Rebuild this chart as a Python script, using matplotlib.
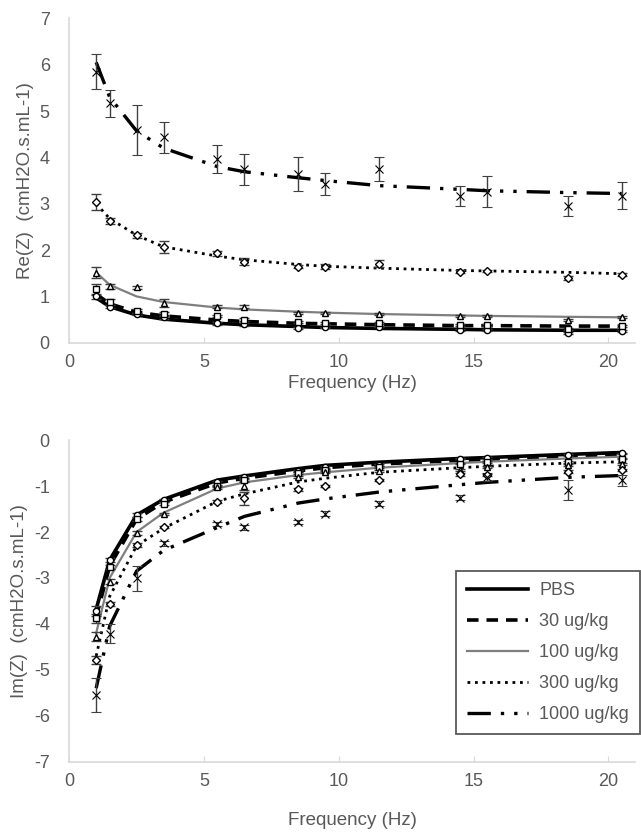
import matplotlib
matplotlib.use('Agg')
import matplotlib.pyplot as plt

plt.rcParams['font.family'] = ['Liberation Sans', 'DejaVu Sans']
plt.rcParams['axes.unicode_minus'] = False

freq = [1, 1.5, 2.5, 3.5, 5.5, 6.5, 8.5, 9.5, 11.5, 14.5, 15.5, 18.5, 20.5]
groups = ['PBS', '30 ug/kg', '100 ug/kg', '300 ug/kg', '1000 ug/kg']

# Re(Z): izmerene vrednosti, greske i fit
re_pbs = [1.00, 0.78, 0.62, 0.55, 0.42, 0.40, 0.31, 0.33, 0.35, 0.27, 0.27, 0.22, 0.26]
re_30 = [1.15, 0.88, 0.68, 0.63, 0.58, 0.50, 0.45, 0.43, 0.42, 0.38, 0.38, 0.30, 0.36]
re_100 = [1.51, 1.22, 1.20, 0.86, 0.78, 0.78, 0.65, 0.65, 0.63, 0.57, 0.57, 0.50, 0.55]
re_300 = [3.04, 2.63, 2.32, 2.06, 1.93, 1.75, 1.64, 1.64, 1.71, 1.53, 1.55, 1.39, 1.47]
re_1000 = [5.85, 5.17, 4.59, 4.43, 3.96, 3.74, 3.64, 3.43, 3.74, 3.17, 3.26, 2.95, 3.17]

re_err_pbs = [0.06, 0.04, 0.03, 0.03, 0.03, 0.03, 0.02, 0.02, 0.02, 0.02, 0.02, 0.02, 0.02]
re_err_30 = [0.12, 0.06, 0.04, 0.04, 0.03, 0.03, 0.02, 0.02, 0.02, 0.02, 0.02, 0.02, 0.02]
re_err_100 = [0.12, 0.05, 0.03, 0.08, 0.03, 0.03, 0.02, 0.02, 0.02, 0.02, 0.02, 0.02, 0.02]
re_err_300 = [0.17, 0.07, 0.05, 0.13, 0.05, 0.08, 0.03, 0.05, 0.08, 0.03, 0.03, 0.04, 0.03]
re_err_1000 = [0.38, 0.29, 0.53, 0.33, 0.30, 0.33, 0.37, 0.24, 0.26, 0.22, 0.33, 0.22, 0.29]

re_fit_pbs = [0.97, 0.78, 0.60, 0.51, 0.42, 0.39, 0.35, 0.33, 0.31, 0.29, 0.28, 0.27, 0.27]
re_fit_30 = [1.05, 0.84, 0.66, 0.58, 0.49, 0.46, 0.42, 0.41, 0.39, 0.37, 0.37, 0.36, 0.36]
re_fit_100 = [1.52, 1.25, 1.00, 0.88, 0.76, 0.72, 0.67, 0.65, 0.62, 0.59, 0.58, 0.56, 0.55]
re_fit_300 = [3.00, 2.68, 2.32, 2.07, 1.87, 1.79, 1.69, 1.65, 1.61, 1.56, 1.55, 1.52, 1.49]
re_fit_1000 = [6.05, 5.30, 4.57, 4.20, 3.80, 3.69, 3.56, 3.50, 3.39, 3.31, 3.28, 3.24, 3.22]

# Im(Z)
im_pbs = [-3.72, -2.61, -1.63, -1.31, -0.91, -0.81, -0.67, -0.58, -0.54, -0.40, -0.38, -0.33, -0.29]
im_30 = [-3.88, -2.76, -1.72, -1.38, -1.00, -0.86, -0.72, -0.64, -0.58, -0.51, -0.47, -0.47, -0.40]
im_100 = [-4.28, -3.08, -2.02, -1.61, -1.03, -1.00, -0.81, -0.70, -0.67, -0.65, -0.58, -0.55, -0.52]
im_300 = [-4.79, -3.57, -2.28, -1.89, -1.34, -1.27, -1.07, -1.00, -0.87, -0.74, -0.76, -0.69, -0.65]
im_1000 = [-5.55, -4.21, -3.01, -2.25, -1.83, -1.90, -1.78, -1.60, -1.38, -1.25, -0.80, -1.09, -0.87]

im_err_pbs = [0.10, 0.05, 0.04, 0.03, 0.03, 0.03, 0.02, 0.02, 0.02, 0.02, 0.02, 0.02, 0.02]
im_err_30 = [0.10, 0.05, 0.04, 0.03, 0.03, 0.03, 0.02, 0.02, 0.02, 0.02, 0.02, 0.02, 0.02]
im_err_100 = [0.10, 0.05, 0.04, 0.03, 0.03, 0.08, 0.02, 0.02, 0.02, 0.02, 0.02, 0.02, 0.02]
im_err_300 = [0.08, 0.05, 0.04, 0.03, 0.03, 0.15, 0.03, 0.03, 0.03, 0.03, 0.03, 0.03, 0.03]
im_err_1000 = [0.37, 0.20, 0.27, 0.05, 0.05, 0.05, 0.05, 0.06, 0.05, 0.05, 0.08, 0.22, 0.12]

im_fit_pbs = [-3.68, -2.61, -1.63, -1.29, -0.87, -0.78, -0.62, -0.55, -0.48, -0.40, -0.38, -0.31, -0.27]
im_fit_30 = [-3.85, -2.74, -1.72, -1.35, -0.93, -0.83, -0.67, -0.60, -0.52, -0.44, -0.42, -0.35, -0.31]
im_fit_100 = [-4.20, -3.00, -2.00, -1.58, -1.05, -0.92, -0.76, -0.70, -0.60, -0.50, -0.47, -0.40, -0.36]
im_fit_300 = [-4.70, -3.40, -2.30, -1.92, -1.33, -1.17, -0.91, -0.83, -0.70, -0.60, -0.57, -0.50, -0.47]
im_fit_1000 = [-5.40, -4.05, -2.85, -2.40, -1.90, -1.66, -1.37, -1.28, -1.13, -0.97, -0.92, -0.81, -0.77]

# stil linija i markera za svaku grupu
line_styles = [
    dict(color='black', lw=2.6, ls='-'),
    dict(color='black', lw=2.6, ls=(0, (3.2, 2.2))),
    dict(color='#7f7f7f', lw=1.6, ls='-'),
    dict(color='black', lw=2.0, ls=(0, (1, 1.7))),
    dict(color='black', lw=2.4, ls=(0, (7, 3, 1, 3, 1, 3))),
]
markers = [('o', 4.5, 1.0), ('s', 4.2, 1.0), ('^', 5.0, 1.0), ('D', 3.6, 1.0), ('x', 6.0, 0.8)]

gray_txt = '#595959'
gray_axis = '#d9d9d9'


def draw_panel(ax, data, errs, fits, ylim, ylabel, xlabelpad):
    for i in range(len(groups)):
        ax.plot(freq, fits[i], label=groups[i], zorder=2, **line_styles[i])
        m, ms, mew = markers[i]
        ax.errorbar(freq, data[i], yerr=errs[i], fmt=m, ms=ms, mfc='white', mec='black',
                    mew=mew, ecolor='#404040', elinewidth=1.0, capsize=3.5, capthick=1.0,
                    zorder=3)
    ax.set_xlim(0, 21)
    ax.set_ylim(*ylim)
    ax.set_xticks([0, 5, 10, 15, 20])
    ax.set_yticks(range(ylim[0], ylim[1] + 1))
    for s in ['top', 'right']:
        ax.spines[s].set_visible(False)
    for s in ['left', 'bottom']:
        ax.spines[s].set_color(gray_axis)
        ax.spines[s].set_linewidth(1.2)
    ax.tick_params(axis='x', direction='in', length=4, color=gray_axis, labelsize=13,
                   labelcolor=gray_txt, pad=8)
    ax.tick_params(axis='y', length=0, labelsize=13, labelcolor=gray_txt, pad=14)
    ax.set_xlabel('Frequency (Hz)', fontsize=13.5, color=gray_txt, labelpad=xlabelpad)
    ax.set_ylabel(ylabel, fontsize=13.5, color=gray_txt, labelpad=4)


fig = plt.figure(figsize=(6.41, 8.32), dpi=100)
ax1 = fig.add_axes([0.108, 0.588, 0.883, 0.39])
ax2 = fig.add_axes([0.108, 0.0845, 0.883, 0.3865])

draw_panel(ax1, [re_pbs, re_30, re_100, re_300, re_1000],
           [re_err_pbs, re_err_30, re_err_100, re_err_300, re_err_1000],
           [re_fit_pbs, re_fit_30, re_fit_100, re_fit_300, re_fit_1000],
           (0, 7), 'Re(Z)  (cmH2O.s.mL-1)', 3)
draw_panel(ax2, [im_pbs, im_30, im_100, im_300, im_1000],
           [im_err_pbs, im_err_30, im_err_100, im_err_300, im_err_1000],
           [im_fit_pbs, im_fit_30, im_fit_100, im_fit_300, im_fit_1000],
           (-7, 0), 'Im(Z)  (cmH2O.s.mL-1)', 16)

leg = ax2.legend(loc='lower right', bbox_to_anchor=(1.008, 0.086), borderaxespad=0,
                 fontsize=13, handlelength=3.4, labelspacing=0.78, borderpad=0.6,
                 handletextpad=0.6, fancybox=False, framealpha=1, edgecolor='#595959')
leg.get_frame().set_linewidth(1.3)
for t in leg.get_texts():
    t.set_color(gray_txt)

fig.savefig('out.png', dpi=100)
